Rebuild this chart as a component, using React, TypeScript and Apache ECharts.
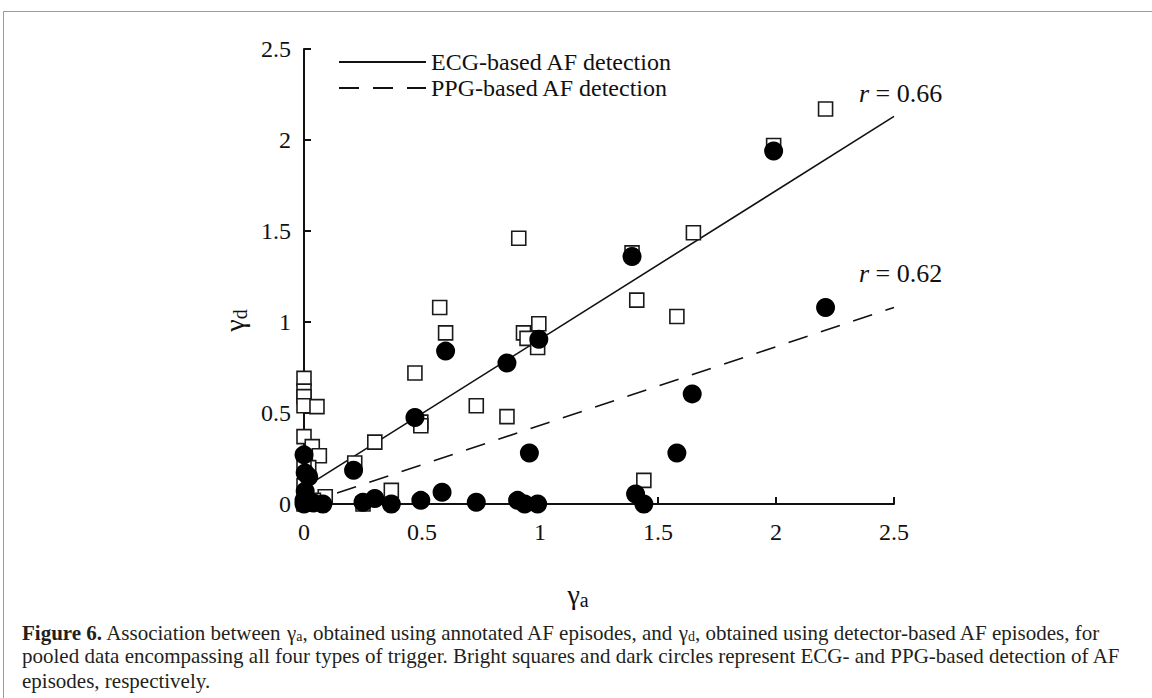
import React, { useEffect, useRef } from "react";
import * as echarts from "echarts";

const SERIF = '"Liberation Serif", "DejaVu Serif", serif';
const INK = "#111111";

// ---- data ----
const seriesNames = ["ECG-based AF detection", "PPG-based AF detection"];
const xTickValues = [0, 0.5, 1, 1.5, 2, 2.5];

// bright squares: ECG-based detection
const ecgPoints: [number, number][] = [
  [2.21, 2.17], [1.99, 1.97], [1.65, 1.49], [0.91, 1.46], [1.39, 1.38],
  [1.41, 1.12], [1.58, 1.03], [0.995, 0.99], [0.93, 0.94], [0.945, 0.91],
  [0.99, 0.86], [0.575, 1.08], [0.6, 0.94], [0.47, 0.72], [0.73, 0.54],
  [0.86, 0.48], [0.495, 0.45], [0.495, 0.43], [0.3, 0.34], [0.215, 0.225],
  [0.37, 0.075], [0.25, 0.0], [0.09, 0.04], [1.44, 0.13], [0, 0.69],
  [0, 0.62], [0, 0.59], [0, 0.54], [0.055, 0.535], [0, 0.37],
  [0.035, 0.315], [0.065, 0.265], [0.02, 0.2], [0, 0.23], [0, 0.1],
  [0.04, 0.02], [0, 0],
];

// dark circles: PPG-based detection
const ppgPoints: [number, number][] = [
  [2.21, 1.08], [1.99, 1.94], [1.39, 1.36], [0.995, 0.905], [0.86, 0.775],
  [0.6, 0.84], [0.47, 0.475], [0.21, 0.185], [1.645, 0.605], [1.58, 0.28],
  [0.955, 0.28], [1.405, 0.055], [1.44, 0.0], [0.585, 0.065], [0.73, 0.01],
  [0.905, 0.02], [0.935, 0.0], [0.99, 0.0], [0.495, 0.02], [0.37, 0.0],
  [0.3, 0.03], [0.25, 0.01], [0.08, 0.0], [0.04, 0.005], [0, 0.27],
  [0.005, 0.17], [0.02, 0.15], [0.005, 0.07], [0, 0.02], [0, 0],
];

// regression lines (end points)
const ecgFit: [number, number][] = [[0.05, 0.13], [2.5, 2.13]];
const ppgFit: [number, number][] = [[0.14, 0.06], [2.5, 1.08]];

const rLabels = ["0.66", "0.62"];

const captionLines = [
  "{b|Figure 6.} Association between {n|γ}{sub|a}, obtained using annotated AF episodes, and {n|γ}{sub|d}, obtained using detector-based AF episodes, for",
  "pooled data encompassing all four types of trigger. Bright squares and dark circles represent ECG- and PPG-based detection of AF",
  "episodes, respectively.",
];

const subRich = (size: number, subSize: number, drop: number) => ({
  g: { fontSize: size, fontFamily: SERIF, color: INK, verticalAlign: "top", lineHeight: size + 2 },
  s: {
    fontSize: subSize,
    fontFamily: SERIF,
    color: INK,
    verticalAlign: "bottom",
    lineHeight: subSize,
    padding: [drop, 0, 0, 0],
  },
});

const CAP = 21;
const captionRich = {
  n: { fontSize: CAP, fontFamily: SERIF, color: "#231f20", lineHeight: 20, verticalAlign: "top" },
  b: { fontSize: CAP, fontFamily: SERIF, color: "#231f20", fontWeight: "bold", lineHeight: 20, verticalAlign: "top" },
  sub: { fontSize: 14, fontFamily: SERIF, color: "#231f20", lineHeight: 12, padding: [8, 0, 0, 0], verticalAlign: "bottom" },
};

export default function App() {
  const ref = useRef<HTMLDivElement>(null);

  useEffect(() => {
    if (!ref.current) return;
    const chart = echarts.init(ref.current, undefined, { renderer: "svg" });

    const axisCommon = {
      type: "value" as const,
      min: 0,
      max: 2.5,
      interval: 0.5,
      axisLine: { show: true, onZero: false, lineStyle: { color: INK, width: 2 } },
      axisTick: { show: true, inside: true, length: 7, lineStyle: { color: INK, width: 2 } },
      splitLine: { show: false },
      axisLabel: { color: INK, fontFamily: SERIF, fontSize: 24 },
    };

    chart.setOption({
      animation: false,
      backgroundColor: "#ffffff",
      grid: { left: 304, top: 49, width: 590, height: 455, containLabel: false },
      xAxis: {
        ...axisCommon,
        axisLabel: { ...axisCommon.axisLabel, margin: 16, customValues: xTickValues },
        name: "{g|γ}{s|a}",
        nameLocation: "middle",
        nameGap: 76,
        nameTextStyle: { rich: subRich(28, 20, 16), padding: [0, 42, 0, 0] },
      },
      yAxis: {
        ...axisCommon,
        axisLabel: { ...axisCommon.axisLabel, margin: 13 },
        name: "{g|γ}{s|d}",
        nameLocation: "middle",
        nameGap: 52,
        nameRotate: 90,
        nameTextStyle: { rich: subRich(28, 20, 16), padding: [0, 88, 0, 0] },
      },
      legend: {
        data: seriesNames,
        orient: "vertical",
        left: 338,
        top: 50,
        padding: 0,
        itemWidth: 87,
        itemHeight: 14,
        itemGap: 2,
        itemStyle: { opacity: 0 },
        textStyle: { color: INK, fontFamily: SERIF, fontSize: 24 },
        selectedMode: false,
      },
      series: [
        {
          name: seriesNames[0],
          type: "line",
          data: ecgFit,
          symbol: "none",
          itemStyle: { color: INK },
          lineStyle: { color: INK, width: 1.6, type: "solid" },
          z: 2,
        },
        {
          name: seriesNames[1],
          type: "line",
          data: ppgFit,
          symbol: "none",
          itemStyle: { color: INK },
          lineStyle: { color: INK, width: 1.6, type: [20, 14] },
          z: 2,
        },
        {
          name: "ECG points",
          type: "scatter",
          data: ecgPoints,
          symbol: "rect",
          symbolSize: 14,
          itemStyle: { color: "#ffffff", borderColor: "#1a1a1a", borderWidth: 1.6, opacity: 1 },
          z: 3,
        },
        {
          name: "PPG points",
          type: "scatter",
          data: ppgPoints,
          symbol: "circle",
          symbolSize: 19,
          itemStyle: { color: "#000000", opacity: 1 },
          z: 4,
        },
      ],
      graphic: [
        { type: "line", shape: { x1: 3.5, y1: 11.5, x2: 1152, y2: 11.5 }, style: { stroke: "#9a9a9a", lineWidth: 1 } },
        { type: "line", shape: { x1: 3.5, y1: 11.5, x2: 3.5, y2: 698 }, style: { stroke: "#9a9a9a", lineWidth: 1 } },
        ...rLabels.map((v, i) => ({
          type: "text",
          left: 859,
          top: i === 0 ? 80 : 260,
          style: {
            text: `{i|r} {n|= ${v}}`,
            rich: {
              i: { fontSize: 26, fontFamily: SERIF, fontStyle: "italic", fill: INK },
              n: { fontSize: 26, fontFamily: SERIF, fill: INK },
            },
            font: `26px ${SERIF}`,
          },
        })),
        ...captionLines.map((t, i) => ({
          type: "text",
          left: 22,
          top: 621 + i * 24.5,
          style: { text: t, rich: captionRich, font: `${CAP}px ${SERIF}`, fill: "#231f20" },
        })),
      ],
    });

    return () => chart.dispose();
  }, []);

  return (
    <div
      ref={ref}
      style={{ position: "fixed", left: 0, top: 0, width: 1152, height: 698, background: "#fff" }}
    />
  );
}
